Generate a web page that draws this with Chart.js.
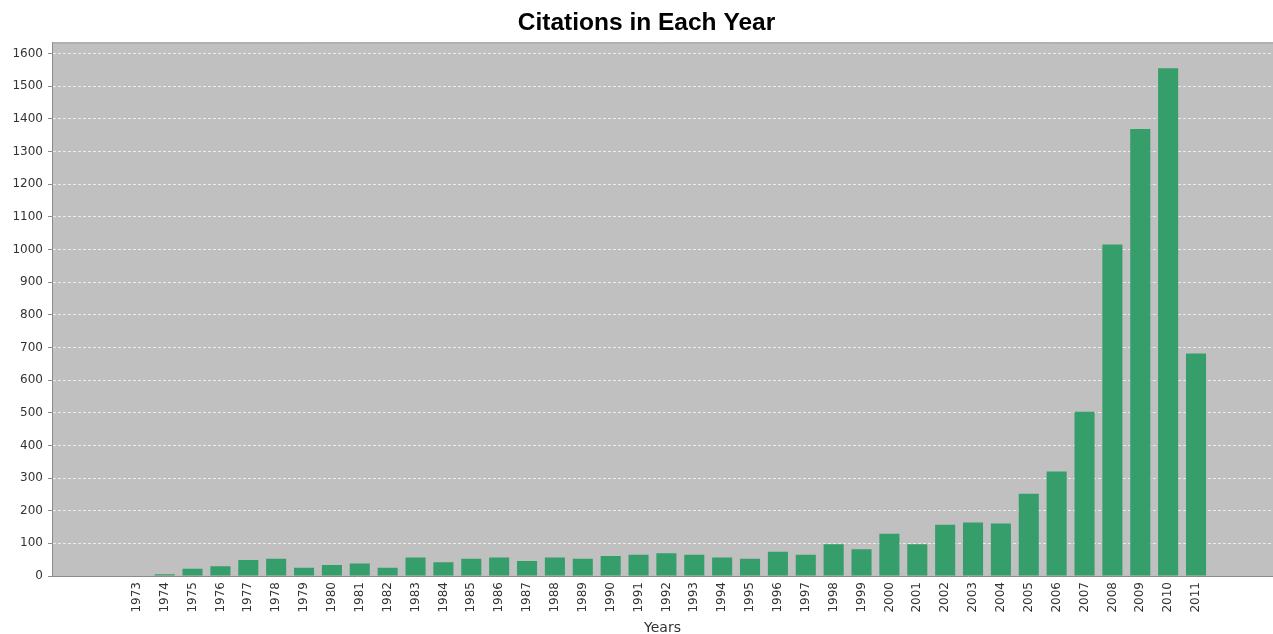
<!DOCTYPE html>
<html>
<head>
<meta charset="utf-8">
<script src="https://cdn.jsdelivr.net/npm/chart.js@4"></script>
<style>
  html, body { margin: 0; padding: 0; background: #ffffff; }
  #wrap { width: 1273px; height: 634px; position: relative; }
</style>
</head>
<body>
<div id="wrap"><canvas id="c"></canvas></div>
<script>
const chartTitle = 'Citations in Each Year';
const xAxisTitle = 'Years';
const years = ['1973','1974','1975','1976','1977','1978','1979','1980','1981','1982',
  '1983','1984','1985','1986','1987','1988','1989','1990','1991','1992',
  '1993','1994','1995','1996','1997','1998','1999','2000','2001','2002',
  '2003','2004','2005','2006','2007','2008','2009','2010','2011'];
const citations = [0,5,22,30,49,53,25,34,38,25,
  57,42,53,57,46,57,53,61,65,70,
  65,57,53,74,65,97,82,129,97,157,
  164,161,252,320,503,1015,1369,1555,681];
const yTicks = [0,100,200,300,400,500,600,700,800,900,1000,1100,1200,1300,1400,1500,1600];

const plotBg = {
  id: 'plotBg',
  afterLayout(chart) {
    if (chart.titleBlock) { chart.titleBlock.left = 20; }
  },
  beforeDraw(chart) {
    const {ctx, chartArea: a} = chart;
    ctx.save();
    ctx.fillStyle = '#c0c0c0';
    ctx.fillRect(a.left, a.top, a.right - a.left, a.bottom - a.top);
    ctx.strokeStyle = '#9a9a9a';
    ctx.lineWidth = 1;
    ctx.beginPath();
    ctx.moveTo(a.left, a.top + 0.5);
    ctx.lineTo(a.right, a.top + 0.5);
    ctx.stroke();
    ctx.restore();
  }
};

new Chart(document.getElementById('c'), {
  type: 'bar',
  data: {
    datasets: [{
      label: 'Citations',
      data: years.map((y, i) => ({x: Number(y), y: citations[i]})),
      backgroundColor: '#359e6a',
      borderWidth: 0,
      barPercentage: 0.72,
      categoryPercentage: 1.0
    }]
  },
  options: {
    responsive: true,
    maintainAspectRatio: false,
    animation: false,
    layout: { padding: { left: 0, right: 0, top: 0, bottom: 0 } },
    plugins: {
      legend: { display: false },
      tooltip: { enabled: false },
      title: {
        display: true,
        text: chartTitle,
        color: '#000000',
        font: { family: 'Liberation Sans', size: 24.5, weight: 'bold' },
        padding: { top: 9, bottom: 4 }
      }
    },
    scales: {
      x: {
        type: 'linear',
        min: 1970.52,
        max: 2013.2,
        afterBuildTicks(scale) { scale.ticks = years.map(y => ({value: Number(y)})); },
        afterFit(scale) { scale.height = 58; },
        grid: { display: false, drawTicks: false, tickLength: 0 },
        border: { display: true, color: '#8c8c8c', width: 1 },
        ticks: {
          autoSkip: false,
          minRotation: 90,
          maxRotation: 90,
          padding: 6,
          color: '#333333',
          font: { family: 'DejaVu Sans', size: 12 },
          callback: v => String(v)
        },
        title: {
          display: true,
          text: xAxisTitle,
          color: '#333333',
          font: { family: 'DejaVu Sans', size: 14 },
          padding: { top: 0, bottom: -3 }
        }
      },
      y: {
        min: 0,
        max: 1634,
        afterBuildTicks(scale) { scale.ticks = yTicks.map(v => ({value: v})); },
        afterFit(scale) { scale.width = 52; },
        grid: {
          color: 'rgba(255,255,255,0.7)',
          lineWidth: 1,
          tickColor: '#8c8c8c',
          tickLength: 4,
          drawTicks: true
        },
        border: { display: true, color: '#8c8c8c', width: 1, dash: [3, 2] },
        ticks: {
          padding: 5,
          color: '#333333',
          font: { family: 'DejaVu Sans', size: 12 },
          callback: v => String(v)
        }
      }
    }
  },
  plugins: [plotBg]
});
</script>
</body>
</html>
